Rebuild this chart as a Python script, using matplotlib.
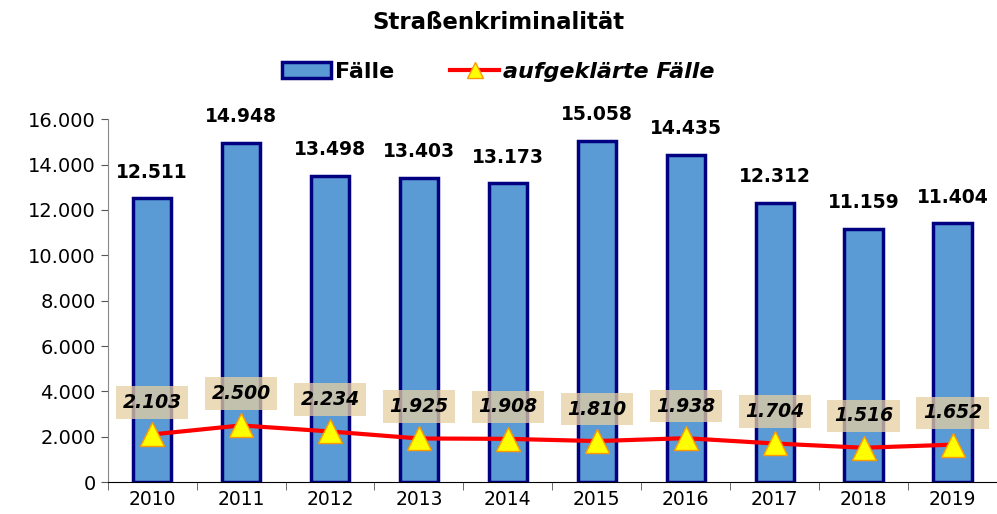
import matplotlib
matplotlib.use("Agg")
import matplotlib.pyplot as plt
from matplotlib.ticker import FuncFormatter, FixedLocator
from matplotlib.lines import Line2D
from matplotlib.patches import Patch

years = ["2010", "2011", "2012", "2013", "2014", "2015", "2016", "2017", "2018", "2019"]
faelle = [12511, 14948, 13498, 13403, 13173, 15058, 14435, 12312, 11159, 11404]
aufgeklaert = [2103, 2500, 2234, 1925, 1908, 1810, 1938, 1704, 1516, 1652]

# wide sans to get closer to the stretched Arial of the original
plt.rcParams['font.family'] = ['DejaVu Sans']


def de_fmt(v):
    return f"{int(round(v)):,}".replace(",", ".")


fig = plt.figure(figsize=(9.97, 5.14), dpi=100)
ax = fig.add_axes([0.108, 0.062, 0.892, 0.706])

x = list(range(len(years)))
ax.bar(x, faelle, width=0.43, color='#5B9BD5', edgecolor='#000080', linewidth=2.5, zorder=2)
ax.plot(x, aufgeklaert, color='#FF0000', linewidth=3, marker='^', markersize=17,
        markerfacecolor='#FFFF00', markeredgecolor='#FF9900', markeredgewidth=1, zorder=4)

for i, v in enumerate(faelle):
    ax.annotate(de_fmt(v), (i, v), xytext=(0, 12), textcoords='offset points',
                ha='center', va='bottom', fontsize=13.5, fontweight='bold', zorder=5)

for i, v in enumerate(aufgeklaert):
    ax.annotate(de_fmt(v), (i, v), xytext=(0, 23), textcoords='offset points',
                ha='center', va='center', fontsize=13.5, fontweight='bold', style='italic',
                bbox=dict(boxstyle='square,pad=0.35', facecolor='#E6CFA0', edgecolor='none', alpha=0.75),
                zorder=5)

ax.set_xlim(-0.5, len(years) - 0.5)
ax.set_ylim(0, 16000)
ax.set_yticks(range(0, 16001, 2000))
ax.yaxis.set_major_formatter(FuncFormatter(lambda v, p: de_fmt(v)))
ax.set_xticks(x)
ax.set_xticklabels(years)
ax.tick_params(axis='x', length=0, labelsize=13.5, pad=6)
ax.xaxis.set_minor_locator(FixedLocator([i - 0.5 for i in range(len(years) + 1)]))
ax.tick_params(axis='x', which='minor', length=6, color='#555555')
ax.tick_params(axis='y', labelsize=14, length=5, color='#555555')
ax.spines['top'].set_visible(False)
ax.spines['right'].set_visible(False)
ax.spines['left'].set_color('#888888')
ax.spines['bottom'].set_color('#000000')

fig.text(0.5, 0.957, "Straßenkriminalität", ha='center', va='center', fontsize=16.5, fontweight='bold')

handles = [Patch(facecolor='#5B9BD5', edgecolor='#000080', linewidth=2.5),
           Line2D([0], [0], color='#FF0000', linewidth=3, marker='^', markersize=12,
                  markerfacecolor='#FFFF00', markeredgecolor='#FF9900')]
leg = fig.legend(handles, ["Fälle", "aufgeklärte Fälle"], loc='center', bbox_to_anchor=(0.5, 0.86),
                 ncol=2, frameon=False, handlelength=2.2, handletextpad=0.2, columnspacing=2.5,
                 prop={'size': 16, 'weight': 'bold'})
leg.get_texts()[1].set_style('italic')

fig.savefig("out.png", dpi=100)
